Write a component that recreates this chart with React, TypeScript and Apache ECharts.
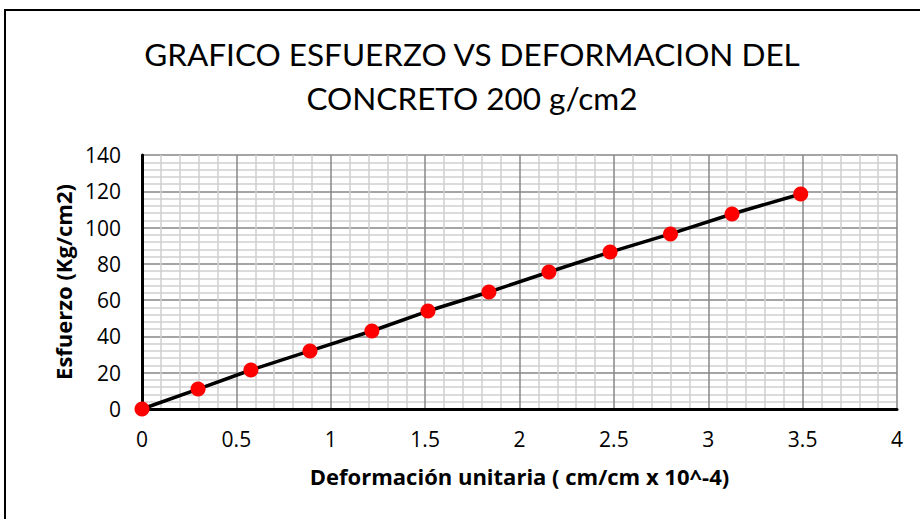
import React, { useEffect, useRef } from "react";
import * as echarts from "echarts";

const strain: number[] = [0, 0.297, 0.577, 0.89, 1.218, 1.515, 1.838, 2.156, 2.48, 2.8, 3.126, 3.49];
const stress: number[] = [0, 11, 21.5, 32, 43, 54, 64.5, 75.5, 86.5, 96.5, 107.5, 118.5];
const titleLines: string[] = ["GRAFICO ESFUERZO VS DEFORMACION DEL", "CONCRETO 200 g/cm2"];
const xName = "Deformación unitaria ( cm/cm x 10^-4)";
const yName = "Esfuerzo (Kg/cm2)";

const TITLE_FONT = "Lato";
const FONT = "Open Sans";

export default function App() {
  const ref = useRef<HTMLDivElement>(null);
  useEffect(() => {
    if (!ref.current) return;
    const chart = echarts.init(ref.current, undefined, { renderer: "svg" });
    chart.setOption({
      animation: false,
      backgroundColor: "#ffffff",
      title: {
        text: titleLines.join("\n"),
        left: 467,
        top: 27,
        textAlign: "center",
        textStyle: { fontFamily: TITLE_FONT, fontSize: 31.5, fontWeight: "normal", color: "#000", lineHeight: 44 },
      },
      graphic: [
        {
          type: "rect",
          shape: { x: 5, y: 10, width: 940, height: 540 },
          style: { fill: "none", stroke: "#000", lineWidth: 2 },
          z: 100,
        },
      ],
      grid: { left: 142, right: 23, top: 155, bottom: 110 },
      xAxis: {
        type: "value",
        min: 0,
        max: 4,
        interval: 0.5,
        name: xName,
        nameLocation: "middle",
        nameGap: 56,
        nameTextStyle: { fontFamily: FONT, fontSize: 22, fontWeight: "bold", color: "#000" },
        axisLine: { show: true, onZero: false, lineStyle: { color: "#000", width: 3 } },
        axisTick: { show: false },
        axisLabel: { fontFamily: FONT, fontSize: 21, color: "#000", margin: 19 },
        splitLine: { show: true, lineStyle: { color: "#878787", width: 1.5 } },
        minorTick: { show: false, splitNumber: 5 },
        minorSplitLine: { show: true, lineStyle: { color: "#cfcfcf", width: 1.5 } },
      },
      yAxis: {
        type: "value",
        min: 0,
        max: 140,
        interval: 20,
        name: yName,
        nameLocation: "middle",
        nameGap: 67,
        nameRotate: 90,
        nameTextStyle: { fontFamily: FONT, fontSize: 22, fontWeight: "bold", color: "#000" },
        axisLine: { show: true, onZero: false, lineStyle: { color: "#000", width: 3 } },
        axisTick: { show: false },
        axisLabel: { fontFamily: FONT, fontSize: 21, color: "#000", margin: 21 },
        splitLine: { show: true, lineStyle: { color: "#878787", width: 1.5 } },
        minorTick: { show: false, splitNumber: 5 },
        minorSplitLine: { show: true, lineStyle: { color: "#cfcfcf", width: 1.5 } },
      },
      series: [
        {
          type: "line",
          data: strain.map((x, i) => [x, stress[i]]),
          symbol: "circle",
          symbolSize: 15,
          itemStyle: { color: "#ff0000", borderWidth: 0 },
          lineStyle: { color: "#000", width: 3.5 },
          z: 5,
        },
      ],
    });
    return () => chart.dispose();
  }, []);
  return <div ref={ref} style={{ position: "absolute", left: 0, top: 0, width: 920, height: 519 }} />;
}
